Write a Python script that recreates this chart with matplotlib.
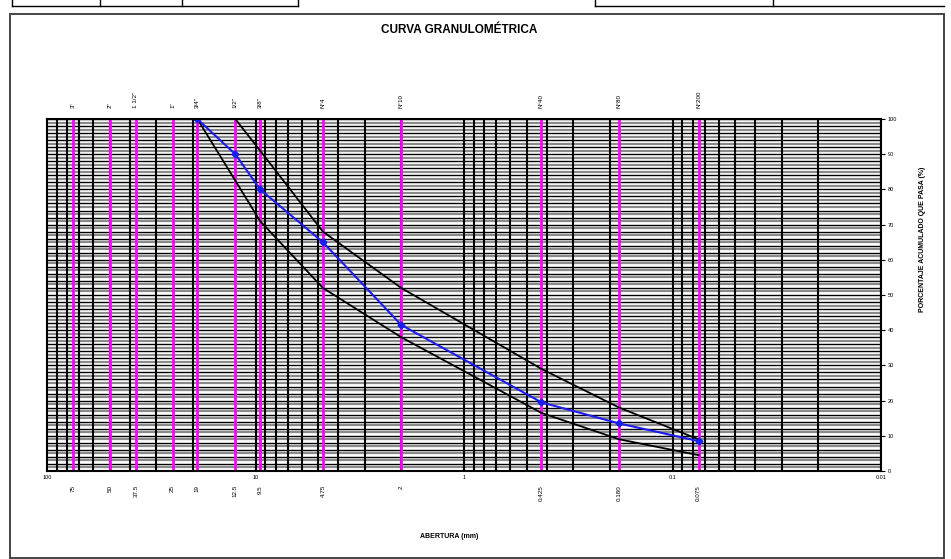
import numpy as np
import matplotlib
matplotlib.use("Agg")
import matplotlib.pyplot as plt
from matplotlib.lines import Line2D
from matplotlib.patches import Rectangle

plt.rcParams['font.family'] = ['Liberation Sans Narrow', 'Liberation Sans', 'DejaVu Sans']

# tamices (mm) y nombres
tamiz_mm = [75, 50, 37.5, 25, 19, 12.5, 9.5, 4.75, 2, 0.425, 0.18, 0.075]
tamiz_nombre = ['3"', '2"', '1 1/2"', '1"', '3/4"', '1/2"', '3/8"', 'N°4', 'N°10', 'N°40', 'N°80', 'N°200']
tamiz_abertura = ['75', '50', '37.5', '25', '19', '12.5', '9.5', '4.75', '2', '0.425', '0.180', '0.075']

# muestra ensayada
muestra_mm = [19, 12.5, 9.5, 4.75, 2, 0.425, 0.18, 0.075]
muestra_pasa = [100, 90, 80, 65, 41.5, 19.5, 13.5, 8.5]

# limites del huso
sup_mm = [12.5, 9.5, 4.75, 2, 0.425, 0.18, 0.075]
sup_pasa = [100, 91, 68, 52, 29, 18, 9]
inf_mm = [19, 12.5, 9.5, 4.75, 2, 0.425, 0.18, 0.075]
inf_pasa = [100, 82.5, 71, 52, 38, 16.5, 9, 4.5]

W, H = 951, 559
fig = plt.figure(figsize=(W / 100, H / 100), dpi=100)

# marco exterior y celdas de la hoja
fig.add_artist(Rectangle((10 / W, 1 / H), (944 - 10) / W, (544) / H, transform=fig.transFigure,
                         fill=False, ec='#444444', lw=1.4))
for x0, x1 in [(12, 298), (595, 944)]:
    fig.add_artist(Line2D([x0 / W, x1 / W], [1 - 6 / H, 1 - 6 / H], transform=fig.transFigure, color='black', lw=1))
for xc in [12, 100, 182, 298, 595, 773]:
    fig.add_artist(Line2D([xc / W, xc / W], [1 - 6 / H, 1.0], transform=fig.transFigure, color='black', lw=1))

ax = fig.add_axes([47 / W, 1 - 471 / H, (881 - 47) / W, (471 - 119) / H])
ax.set_xscale('log')
ax.set_xlim(100, 0.01)
ax.set_ylim(0, 100)

# lineas horizontales
for p in range(0, 101):
    if p % 2 == 0:
        ax.axhline(p, color='black', lw=1.0, zorder=1)
    else:
        ax.axhline(p, color='#8a8a8a', lw=1.6, zorder=0.9)

# lineas verticales de la escala logaritmica
for k in range(-2, 2):
    for m in range(1, 10):
        ax.axvline(m * 10.0 ** k, color='black', lw=1.5, zorder=2)

# tamices
for d in tamiz_mm:
    ax.axvline(d, color='#ff00ff', lw=2.0, zorder=3)

ax.plot(sup_mm, sup_pasa, color='black', lw=1.3, zorder=4)
ax.plot(inf_mm, inf_pasa, color='black', lw=1.3, zorder=4)
ax.plot(muestra_mm, muestra_pasa, color='#1c1cf0', lw=1.5, marker='D', ms=3.5, zorder=5)

trans = ax.get_xaxis_transform()
for d, nom, ab in zip(tamiz_mm, tamiz_nombre, tamiz_abertura):
    ax.text(d, 1.032, nom, transform=trans, rotation=90, ha='center', va='bottom', fontsize=4.5)
    ax.text(d, -0.04, ab, transform=trans, rotation=90, ha='center', va='top', fontsize=4.5)

ax.set_xticks([100, 10, 1, 0.1, 0.01])
ax.set_xticklabels(['100', '10', '1', '0.1', '0.01'])
ax.xaxis.set_minor_locator(matplotlib.ticker.NullLocator())
ax.tick_params(axis='x', length=0, pad=3, labelsize=4)
ax.yaxis.tick_right()
ax.set_yticks(np.arange(0, 101, 10))
ax.tick_params(axis='y', length=3, width=0.8, pad=2, labelsize=4)
for s in ax.spines.values():
    s.set_linewidth(1.5)
    s.set_zorder(6)

fig.text(459 / W, 1 - 30 / H, 'CURVA GRANULOMÉTRICA', ha='center', va='center',
         fontsize=8.5, fontweight='bold')
fig.text(923 / W, 1 - 239 / H, 'PORCENTAJE ACUMULADO QUE PASA (%)', rotation=90,
         ha='center', va='center', fontsize=5, fontweight='bold')
fig.text(449 / W, 1 - 537 / H, 'ABERTURA (mm)', ha='center', va='center',
         fontsize=5, fontweight='bold')

fig.savefig('out.png', dpi=100)
